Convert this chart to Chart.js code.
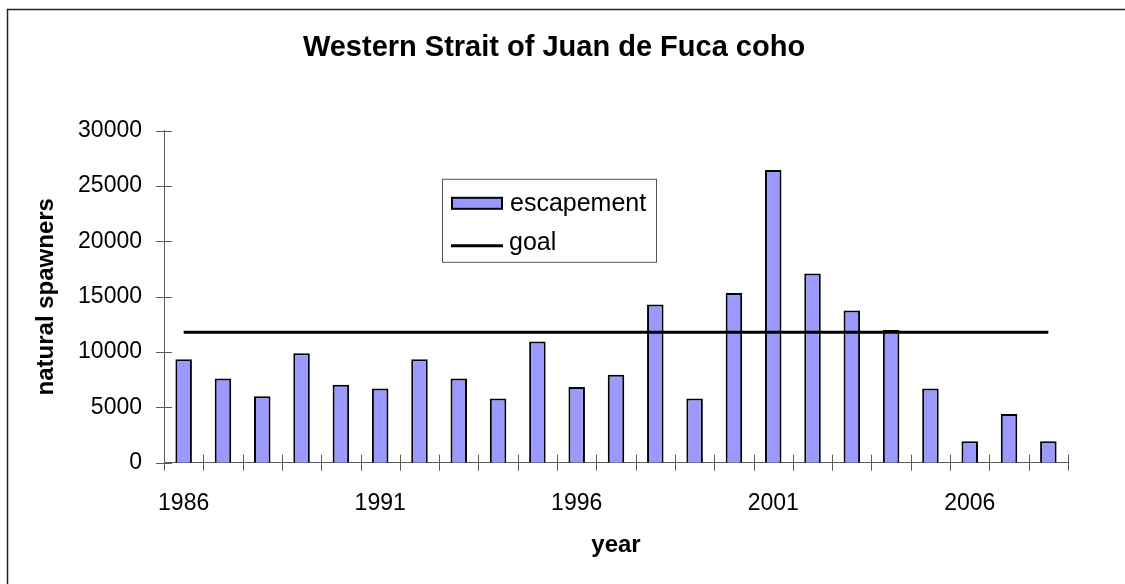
<!DOCTYPE html>
<html>
<head>
<meta charset="utf-8">
<script src="https://cdn.jsdelivr.net/npm/chart.js@4/dist/chart.umd.min.js"></script>
<style>
  html, body { margin: 0; padding: 0; background: #fff; }
  #wrap { width: 1125px; height: 584px; position: relative; }
</style>
</head>
<body>
<div id="wrap"><canvas id="c" width="1125" height="584"></canvas></div>
<script>
// Western Strait of Juan de Fuca coho: natural spawners per year vs. goal
const years = ['1986','1987','1988','1989','1990','1991','1992','1993','1994','1995','1996','1997',
               '1998','1999','2000','2001','2002','2003','2004','2005','2006','2007','2008'];
const escapement = [9350, 7600, 6000, 9900, 7050, 6700, 9350, 7600, 5800, 10950, 6850, 7950,
                    14300, 5800, 15350, 26450, 17100, 13750, 12000, 6700, 1950, 4400, 1950];
const goal = [11800, 11800, 11800, 11800, 11800, 11800, 11800, 11800, 11800, 11800, 11800, 11800,
              11800, 11800, 11800, 11800, 11800, 11800, 11800, 11800, 11800, 11800, 11800];
const yearLabelsShown = ['1986', '1991', '1996', '2001', '2006'];
const yMin = 0, yMax = 30000, yStep = 5000;

const FONT = "'Liberation Sans', Arial, sans-serif";
const AXIS_COLOR = '#5a5a5a';

// White page with the outer frame (only top/left edges fall inside the canvas)
const framePlugin = {
  id: 'frame',
  beforeDraw(chart) {
    const ctx = chart.ctx;
    ctx.save();
    ctx.fillStyle = '#ffffff';
    ctx.fillRect(0, 0, chart.width, chart.height);
    ctx.strokeStyle = '#222222';
    ctx.lineWidth = 1.5;
    ctx.strokeRect(7.5, 9.5, chart.width + 50, chart.height + 50);
    ctx.restore();
  }
};

// Tick marks that cross the axis lines
const crossTicksPlugin = {
  id: 'crossTicks',
  afterDraw(chart) {
    const ctx = chart.ctx;
    const x = chart.scales.x, y = chart.scales.y;
    const half = 8;
    ctx.save();
    ctx.strokeStyle = AXIS_COLOR;
    ctx.lineWidth = 1;
    // y ticks
    y.ticks.forEach((t, i) => {
      const py = Math.round(y.getPixelForTick(i)) + 0.5;
      ctx.beginPath();
      ctx.moveTo(x.left - half, py);
      ctx.lineTo(x.left + half, py);
      ctx.stroke();
    });
    // x ticks at category boundaries
    const n = chart.data.labels.length;
    for (let i = 0; i <= n; i++) {
      let px;
      if (i === 0) px = x.left;
      else if (i === n) px = x.right;
      else px = (x.getPixelForValue(i - 1) + x.getPixelForValue(i)) / 2;
      px = Math.round(px) + 0.5;
      ctx.beginPath();
      ctx.moveTo(px, y.bottom - half);
      ctx.lineTo(px, y.bottom + half);
      ctx.stroke();
    }
    ctx.restore();
  }
};

// Boxed legend placed inside the plot
const boxLegendPlugin = {
  id: 'boxLegend',
  afterDraw(chart) {
    const ctx = chart.ctx;
    const area = chart.chartArea;
    const ds = chart.data.datasets;
    const bx = area.left + 278, by = area.top + 48, bw = 214, bh = 83;
    ctx.save();
    ctx.fillStyle = '#ffffff';
    ctx.fillRect(bx, by, bw, bh);
    ctx.strokeStyle = '#555555';
    ctx.lineWidth = 1;
    ctx.strokeRect(bx + 0.5, by + 0.5, bw, bh);

    ctx.font = '25px ' + FONT;
    ctx.fillStyle = '#000000';
    ctx.textBaseline = 'middle';
    ctx.textAlign = 'left';

    // bar series swatch
    const bar = ds[0];
    ctx.fillStyle = bar.backgroundColor;
    ctx.fillRect(bx + 10, by + 19, 50, 11);
    ctx.strokeStyle = bar.borderColor;
    ctx.lineWidth = 2;
    ctx.strokeRect(bx + 10, by + 19, 50, 11);
    ctx.fillStyle = '#000000';
    ctx.fillText(bar.label, bx + 68, by + 25);

    // line series swatch
    const line = ds[1];
    ctx.strokeStyle = line.borderColor;
    ctx.lineWidth = line.borderWidth;
    ctx.beginPath();
    ctx.moveTo(bx + 9, by + 67);
    ctx.lineTo(bx + 61, by + 67);
    ctx.stroke();
    ctx.fillText(line.label, bx + 67, by + 64);
    ctx.restore();
  }
};

new Chart(document.getElementById('c'), {
  type: 'bar',
  data: {
    labels: years,
    datasets: [
      {
        type: 'bar',
        label: 'escapement',
        data: escapement,
        backgroundColor: '#9999ff',
        borderColor: '#000000',
        borderWidth: 2,
        categoryPercentage: 1.0,
        barPercentage: 0.42,
        order: 1
      },
      {
        type: 'line',
        label: 'goal',
        data: goal,
        borderColor: '#000000',
        borderWidth: 3,
        pointRadius: 0,
        fill: false,
        tension: 0,
        order: 0
      }
    ]
  },
  options: {
    responsive: false,
    animation: false,
    devicePixelRatio: 1,
    layout: { padding: { left: 0, right: 17, top: 0, bottom: 0 } },
    plugins: {
      legend: { display: false },
      tooltip: { enabled: false },
      title: {
        display: true,
        text: 'Western Strait of Juan de Fuca coho',
        color: '#000000',
        font: { family: FONT, size: 29, weight: 'bold', lineHeight: 1.2 },
        padding: { top: 31, bottom: 65 }
      }
    },
    scales: {
      x: {
        offset: true,
        grid: { display: false, drawTicks: false },
        border: { display: true, color: AXIS_COLOR, width: 1 },
        ticks: {
          autoSkip: false,
          maxRotation: 0,
          minRotation: 0,
          padding: 27,
          color: '#000000',
          font: { family: FONT, size: 23 },
          callback: function (value) {
            const lab = this.getLabelForValue(value);
            return yearLabelsShown.includes(lab) ? lab : '';
          }
        },
        title: {
          display: true,
          text: 'year',
          color: '#000000',
          font: { family: FONT, size: 24, weight: 'bold', lineHeight: 1.2 },
          padding: { top: 4, bottom: 24 }
        },
        afterFit(scale) { scale.height = 121.3; }
      },
      y: {
        min: yMin,
        max: yMax,
        grid: { display: false, drawTicks: false },
        border: { display: true, color: AXIS_COLOR, width: 1 },
        ticks: {
          stepSize: yStep,
          padding: 22,
          color: '#000000',
          font: { family: FONT, size: 23 },
          callback: (v) => String(v)
        },
        title: {
          display: true,
          text: 'natural spawners',
          color: '#000000',
          font: { family: FONT, size: 24, weight: 'bold', lineHeight: 1.2 },
          padding: { top: 32, bottom: 4 }
        },
        afterFit(scale) { scale.width = 164; }
      },
      // empty right-hand margin strip
      yRight: {
        position: 'right',
        display: true,
        min: yMin,
        max: yMax,
        grid: { display: false, drawTicks: false },
        border: { display: false },
        ticks: { display: false },
        afterFit(scale) { scale.width = 40; }
      }
    }
  },
  plugins: [framePlugin, crossTicksPlugin, boxLegendPlugin]
});
</script>
</body>
</html>
